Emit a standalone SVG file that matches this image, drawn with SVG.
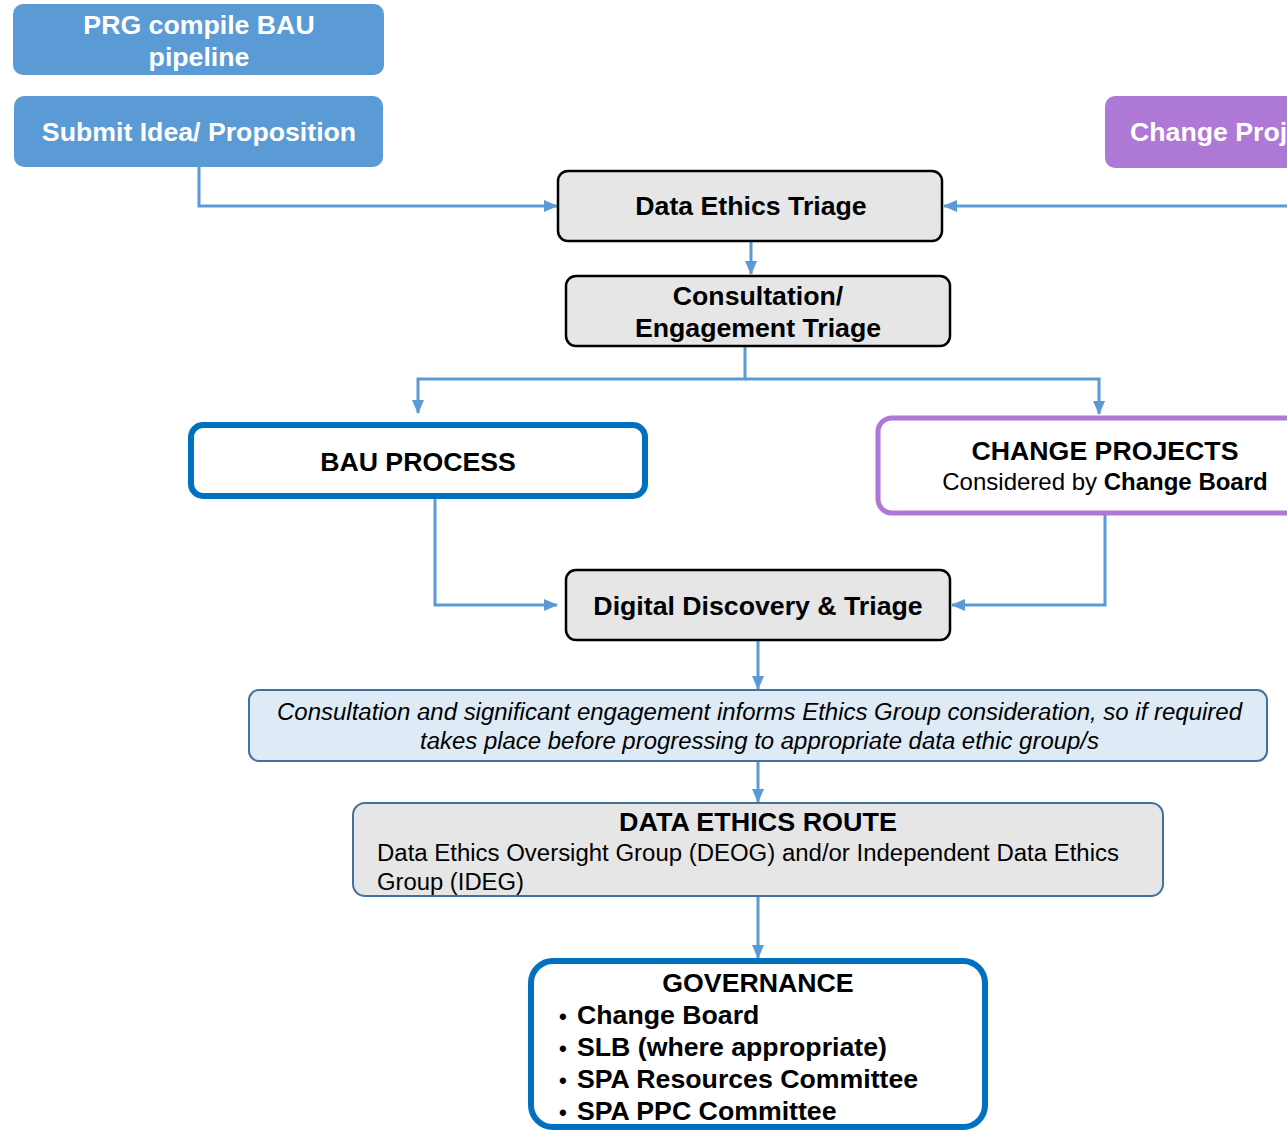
<svg xmlns="http://www.w3.org/2000/svg" width="1287" height="1131" viewBox="0 0 1287 1131">
<defs>
<marker id="ah" markerWidth="14" markerHeight="12" refX="13" refY="6" orient="auto" markerUnits="userSpaceOnUse">
<path d="M0,0 L14,6 L0,12 Z" fill="#5B9BD5"/>
</marker>
<style>
.t{font-family:"Liberation Sans",Arial,sans-serif;}
.b{font-weight:bold;}
.w{fill:#ffffff;}
.k{fill:#000000;}
.blue{fill:#5B9BD5;stroke:none;}
.purple{fill:#AE78D6;stroke:none;}
.grey{fill:#E6E6E6;stroke:#000000;stroke-width:2.5;}
.gblue{fill:#E6E6E6;stroke:#41719C;stroke-width:2;}
.lb{fill:#DEEBF7;stroke:#41719C;stroke-width:2;}
.thick{fill:#ffffff;stroke:#0070C0;stroke-width:6;}
.thickp{fill:#ffffff;stroke:#AE78D6;stroke-width:5;}
.c{fill:none;stroke:#5B9BD5;stroke-width:3;}
</style>
</defs>
<rect width="1287" height="1131" fill="#ffffff"/>

<g id="connectors">
<path class="c" d="M199,167 V206 H557" marker-end="url(#ah)"/>
<path class="c" d="M1287,206 H944" marker-end="url(#ah)"/>
<path class="c" d="M751,241 V274" marker-end="url(#ah)"/>
<path class="c" d="M745,346 V379 H418 V413" marker-end="url(#ah)"/>
<path class="c" d="M745,379 H1099 V414" marker-end="url(#ah)"/>
<path class="c" d="M312,497 H435 V605 H557" marker-end="url(#ah)"/>
<path class="c" d="M1105,513 V605 H952" marker-end="url(#ah)"/>
<path class="c" d="M758,640 V689" marker-end="url(#ah)"/>
<path class="c" d="M758,761 V802" marker-end="url(#ah)"/>
<path class="c" d="M758,896 V958" marker-end="url(#ah)"/>
</g>

<g id="prg">
<rect class="blue" x="13" y="4" width="371" height="71" rx="10"/>
<text class="t b w" x="199" y="34" font-size="26.7" text-anchor="middle">PRG compile BAU</text>
<text class="t b w" x="199" y="66" font-size="26.7" text-anchor="middle">pipeline</text>
</g>

<g id="submit">
<rect class="blue" x="14" y="96" width="369" height="71" rx="10"/>
<text class="t b w" x="199" y="141" font-size="26.7" text-anchor="middle">Submit Idea/ Proposition</text>
</g>

<g id="changeproj">
<rect class="purple" x="1105" y="96" width="200" height="72" rx="10"/>
<text class="t b w" x="1130" y="141" font-size="26.7">Change Proj</text>
</g>

<g id="det">
<rect class="grey" x="558" y="171" width="384" height="70" rx="10"/>
<text class="t b k" x="751" y="215" font-size="26.7" text-anchor="middle">Data Ethics Triage</text>
</g>

<g id="cet">
<rect class="grey" x="566" y="276" width="384" height="70" rx="10"/>
<text class="t b k" x="758" y="305" font-size="26.7" text-anchor="middle">Consultation/</text>
<text class="t b k" x="758" y="337" font-size="26.7" text-anchor="middle">Engagement Triage</text>
</g>

<g id="bau">
<rect class="thick" x="191" y="425" width="454" height="71" rx="12"/>
<text class="t b k" x="418" y="471" font-size="26.7" text-anchor="middle">BAU PROCESS</text>
</g>

<g id="changeprojects">
<rect class="thickp" x="878" y="418" width="430" height="95" rx="14"/>
<text class="t b k" x="1105" y="460" font-size="26.7" text-anchor="middle">CHANGE PROJECTS</text>
<text class="t k" x="1105" y="490" font-size="24" text-anchor="middle">Considered by <tspan class="b">Change Board</tspan></text>
</g>

<g id="ddt">
<rect class="grey" x="566" y="570" width="384" height="70" rx="10"/>
<text class="t b k" x="758" y="615" font-size="26.7" text-anchor="middle">Digital Discovery &amp; Triage</text>
</g>

<g id="consult">
<rect class="lb" x="249" y="690" width="1018" height="71" rx="10"/>
<text class="t k" x="277" y="720" font-size="23" font-style="italic" textLength="965" lengthAdjust="spacingAndGlyphs">Consultation and significant engagement informs Ethics Group consideration, so if required</text>
<text class="t k" x="420" y="749" font-size="23" font-style="italic" textLength="679" lengthAdjust="spacingAndGlyphs">takes place before progressing to appropriate data ethic group/s</text>
</g>

<g id="route">
<rect class="gblue" x="353" y="803" width="810" height="93" rx="12"/>
<text class="t b k" x="619" y="831" font-size="26" textLength="278" lengthAdjust="spacingAndGlyphs">DATA ETHICS ROUTE</text>
<text class="t k" x="377" y="861" font-size="23" textLength="742" lengthAdjust="spacingAndGlyphs">Data Ethics Oversight Group (DEOG) and/or Independent Data Ethics</text>
<text class="t k" x="377" y="890" font-size="23" textLength="147" lengthAdjust="spacingAndGlyphs">Group (IDEG)</text>
</g>

<g id="governance">
<rect class="thick" x="531" y="961" width="454" height="166" rx="22"/>
<text class="t b k" x="758" y="992" font-size="26.7" text-anchor="middle">GOVERNANCE</text>
<text class="t b k" x="559" y="1024" font-size="22">•</text>
<text class="t b k" x="577" y="1024" font-size="26.7">Change Board</text>
<text class="t b k" x="559" y="1056" font-size="22">•</text>
<text class="t b k" x="577" y="1056" font-size="26.7">SLB (where appropriate)</text>
<text class="t b k" x="559" y="1088" font-size="22">•</text>
<text class="t b k" x="577" y="1088" font-size="26.7">SPA Resources Committee</text>
<text class="t b k" x="559" y="1120" font-size="22">•</text>
<text class="t b k" x="577" y="1120" font-size="26.7">SPA PPC Committee</text>
</g>
</svg>
